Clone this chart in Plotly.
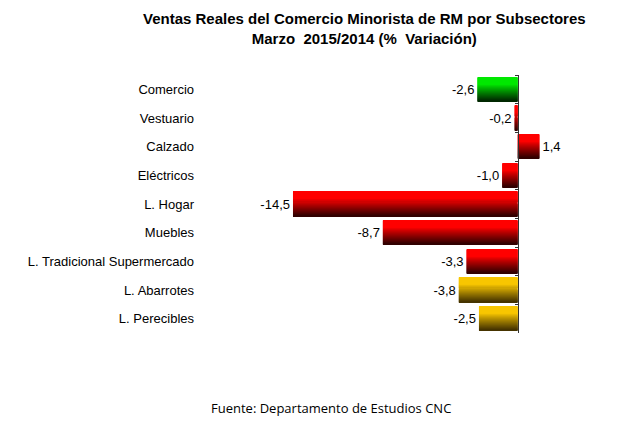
import plotly.graph_objects as go

# ---- data ----
categories = ["Comercio", "Vestuario", "Calzado", "Eléctricos", "L. Hogar",
              "Muebles", "L. Tradicional Supermercado", "L. Abarrotes", "L. Perecibles"]
values = [-2.6, -0.2, 1.4, -1.0, -14.5, -8.7, -3.3, -3.8, -2.5]
color_groups = ["green", "red", "red", "red", "red", "red", "red", "yellow", "yellow"]

# ---- styles ----
palette = {
    "green": ((0, 232, 0), (0, 40, 0)),
    "red": ((255, 0, 0), (50, 0, 0)),
    "yellow": ((248, 198, 0), (70, 52, 0)),
}
FONT = "Liberation Sans, Arial, sans-serif"
W, H = 635, 434
ML, MR, MT, MB = 200, 15, 75, 101
XR = [-20.5, 6.6]
BAR_W = 0.84
N = 24


def shade(group, t):
    top, bot = palette[group]
    if t < 0.3:
        f = 0.0
    else:
        f = ((t - 0.3) / 0.7) ** 0.9
    c = [round(a + (b - a) * f) for a, b in zip(top, bot)]
    return f"rgb({c[0]},{c[1]},{c[2]})"


fig = go.Figure()
slice_w = BAR_W / N
for k in range(N):
    t = k / (N - 1)
    fig.add_trace(go.Bar(
        y=categories, x=values, orientation="h",
        width=slice_w * 1.15, offset=-BAR_W / 2 + k * slice_w,
        marker=dict(color=[shade(g, t) for g in color_groups], line=dict(width=0)),
        showlegend=False, hoverinfo="skip",
    ))

# transparent carrier for value labels
fig.add_trace(go.Bar(
    y=categories, x=values, orientation="h", width=BAR_W,
    marker=dict(color="rgba(0,0,0,0)", line=dict(width=0)),
    texttemplate="%{x:.1f}", textposition="outside", cliponaxis=False,
    textfont=dict(family=FONT, size=13, color="#000"),
    showlegend=False, hoverinfo="skip",
))

# axis line at zero with boundary ticks
fig.add_trace(go.Scatter(y=categories, x=values, yaxis="y2", mode="none",
                         showlegend=False, hoverinfo="skip"))

zero_pos = (0 - XR[0]) / (XR[1] - XR[0])
n = len(categories)
PW = W - ML - MR
PH = H - MT - MB

fig.update_layout(
    width=W, height=H,
    margin=dict(l=ML, r=MR, t=MT, b=MB),
    paper_bgcolor="white", plot_bgcolor="white",
    barmode="overlay", separators=",.",
    font=dict(family=FONT, size=13, color="#000"),
    xaxis=dict(range=XR, showticklabels=False, showgrid=False, zeroline=False,
               showline=False, ticks=""),
    yaxis=dict(range=[n - 0.5, -0.5], showgrid=False, showline=False, ticks="",
               ticklabelstandoff=5, tickfont=dict(family=FONT, size=13, color="#000")),
    yaxis2=dict(range=[n - 0.5, -0.5], overlaying="y", anchor="free", position=zero_pos,
                side="left", showticklabels=False, showgrid=False, showline=True,
                linecolor="#333", linewidth=1, ticks="outside", tickson="boundaries",
                ticklen=3, tickcolor="#333"),
    annotations=[
        dict(
            text="<b>Ventas Reales del Comercio Minorista de RM por Subsectores<br>Marzo  2015/2014 (%  Variación)</b>",
            xref="paper", yref="paper",
            x=(364 - ML) / PW, y=1 + (MT - 8) / PH,
            xanchor="center", yanchor="top", showarrow=False,
            font=dict(family=FONT, size=15, color="#000"),
        ),
        dict(
            text="Fuente: Departamento de Estudios CNC",
            xref="paper", yref="paper", x=(331 - ML) / PW, y=-(408 - (H - MB)) / PH,
            xanchor="center", yanchor="middle", showarrow=False,
            font=dict(family="Open Sans, Noto Sans, sans-serif", size=13, color="#000"),
        ),
    ],
)

fig.write_html("out.html")
